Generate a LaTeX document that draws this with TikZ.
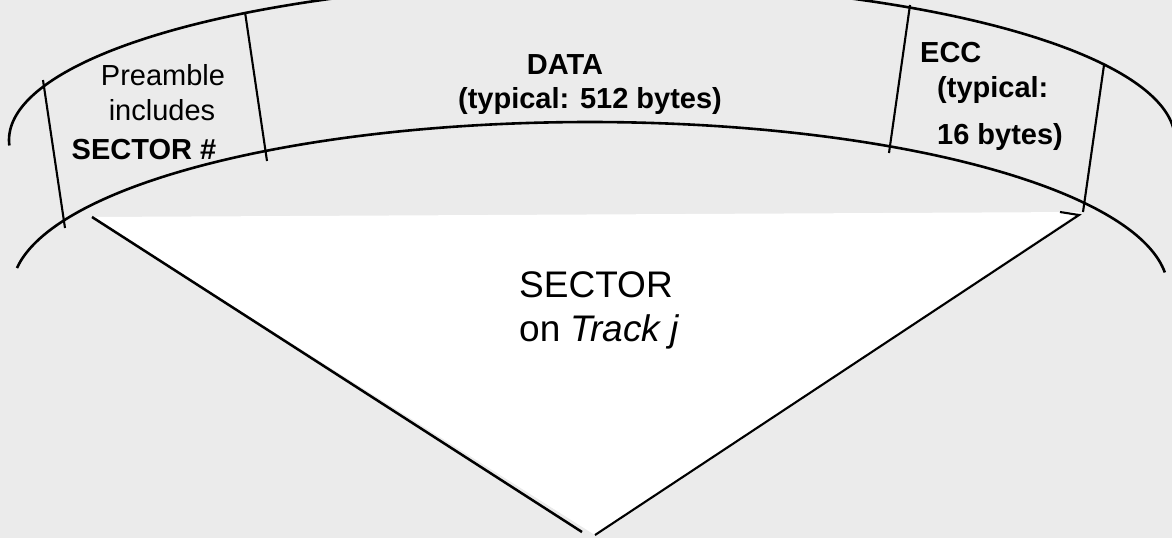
\documentclass[tikz,border=0pt]{standalone}
\usepackage{fontspec}
\setmainfont{Liberation Sans}
\definecolor{bg}{RGB}{235,235,235}
\begin{document}
\begin{tikzpicture}[x=1pt,y=-1pt,
  arcline/.style={line width=2.6pt},
  radial/.style={line width=2.1pt},
  edge/.style={line width=2.1pt, line join=miter},
  lbl/.style={inner sep=0pt, font=\fontsize{29}{34}\selectfont},
  lblb/.style={inner sep=0pt, font=\fontsize{29}{34}\selectfont\bfseries},
  big/.style={inner sep=0pt, font=\fontsize{37}{44}\selectfont}]
\fill[bg] (0,0) rectangle (1172,538);
\useasboundingbox (0,0) rectangle (1172,538);
\clip (0,0) rectangle (1172,538);

% sector wedge
\coordinate (tl) at (92,217);
\coordinate (tr) at (1080,212);
\coordinate (ap) at (595,535);
\coordinate (apl) at (582,532);
\coordinate (tick) at (1060,212);
\coordinate (trl) at (1079,215);
\fill[white] (tl) -- (tr) -- (ap) -- cycle;

% track boundaries
\draw[arcline] plot[domain=-1:182, samples=240] ({592+583*cos(\x)}, {140-158*sin(\x)});
\draw[arcline] plot[domain=6:172.5, samples=240] ({590+578*cos(\x)}, {290-168*sin(\x)});

% radial separators
\coordinate (r1t) at (43,80);   \coordinate (r1b) at (65,228);
\coordinate (r2t) at (245,12);  \coordinate (r2b) at (267,161);
\coordinate (r3t) at (910,5);   \coordinate (r3b) at (889,153);
\coordinate (r4t) at (1104,65); \coordinate (r4b) at (1083,212);
\draw[radial] (r1t) -- (r1b);
\draw[radial] (r2t) -- (r2b);
\draw[radial] (r3t) -- (r3b);
\draw[radial] (r4t) -- (r4b);

% wedge edges
\draw[edge, line width=2.5pt] (tl) -- (apl);
\draw[edge] (tick) -- (trl) -- (ap);

% labels
\node[lbl, anchor=base] (pre1) at (163,85) {Preamble};
\node[lbl, anchor=base] (pre2) at (162,120) {includes};
\node[lblb, anchor=base] (pre3) at (144,159) {SECTOR \#};
\node[lblb, anchor=base] (data1) at (565,74) {DATA};
\node[lblb, anchor=base] (data2) at (590,108) {(typical: 512 bytes)};
\node[lblb, anchor=base west] (ecc1) at (920,62) {ECC};
\node[lblb, anchor=base west] (ecc2) at (937,97) {(typical:};
\node[lblb, anchor=base west] (ecc3) at (937,144) {16 bytes)};
\node[big, anchor=base west] (sec1) at (519,297) {SECTOR};
\node[big, anchor=base west] (sec2) at (519,341) {on \textit{Track j}};
\end{tikzpicture}
\end{document}
